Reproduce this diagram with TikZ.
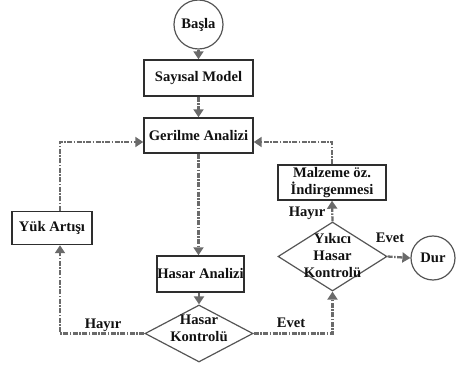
\documentclass[tikz,border=0pt]{standalone}
\usepackage{fontspec}
\setmainfont{Liberation Serif}
\usepackage{tikz}
\usetikzlibrary{arrows.meta, positioning, calc, shapes.geometric}
\usepackage{xcolor}
\definecolor{flowgray}{HTML}{6A6A6A}
\definecolor{edgegray}{HTML}{555555}
\definecolor{boxdark}{HTML}{2E2E2E}
\definecolor{inkblack}{HTML}{111111}

\begin{document}
\begin{tikzpicture}[
    x=1pt, y=-1pt,
    every node/.style={font=\fontsize{14.6}{17}\selectfont\bfseries, text=inkblack},
    process/.style={draw=boxdark, line width=1.4pt, rectangle, inner sep=0pt, align=center},
    terminal/.style={draw=edgegray, line width=1.2pt, circle, inner sep=0pt},
    decision/.style={draw=edgegray, line width=1.2pt, diamond, inner sep=0pt},
    flow/.style={draw=flowgray, line width=2.3pt, dash pattern=on 5pt off 1.5pt on 1.5pt off 1.5pt,
        -{Triangle[length=8pt, width=10pt, fill=flowgray]}},
    answer/.style={inner sep=0pt},
]
\useasboundingbox (0,0) rectangle (464,366);

% Main column
\node[terminal, minimum size=49pt] (basla) at (198.5,24.5) {Başla};
\node[process, minimum width=109pt, minimum height=36pt] (model) at (198.5,78) {Sayısal Model};
\node[process, minimum width=109pt, minimum height=35pt] (gerilme) at (198.5,135.5) {Gerilme Analizi};
\node[process, minimum width=87pt, minimum height=36pt] (hasarA) at (200.5,274) {Hasar Analizi};
\node[decision, minimum width=108pt, minimum height=57pt] (kontrol) at (199,333.5) {};
\node[align=center] (kontrolTxt) at (199,328) {Hasar\\Kontrolü};

% Left branch
\node[process, minimum width=80pt, minimum height=33pt] (yuk) at (52,228) {Yük Artışı};
\coordinate (leftCol) at (60,0);

% Right branch
\node[decision, minimum width=109pt, minimum height=69pt] (yikici) at (332.5,256.5) {};
\node[align=center] (yikiciTxt) at (332.5,256) {Yıkıcı\\Hasar\\Kontrolü};
\node[process, minimum width=108pt, minimum height=35pt] (malzeme) at (332,182.5) {Malzeme öz.\\İndirgenmesi};
\node[terminal, minimum size=44pt] (dur) at (433,258) {Dur};

% Connectors
\draw[flow] (basla.south) -- (model.north);
\draw[flow] (model.south) -- (gerilme.north);
\draw[flow] (gerilme.south) -- (gerilme.south |- hasarA.north);
\draw[flow] (hasarA.south -| kontrol.north) -- (kontrol.north);
\draw[flow] (kontrol.west) -| (leftCol |- yuk.south);
\draw[flow] (leftCol |- yuk.north) |- ([yshift=-6.5pt]gerilme.west);
\draw[flow] (malzeme.north) |- ([yshift=-6.5pt]gerilme.east);
\draw[flow] (kontrol.east) -| (yikici.south);
\draw[flow] (yikici.north) -- (malzeme.south);
\draw[flow] (yikici.east) -- (dur.west);

% Answers
\node[answer] (hayir1) at (103,325) {Hayır};
\node[answer] (evet1) at (291,322.5) {Evet};
\node[answer] (hayir2) at (307,213) {Hayır};
\node[answer] (evet2) at (390,237.5) {Evet};

\end{tikzpicture}
\end{document}
